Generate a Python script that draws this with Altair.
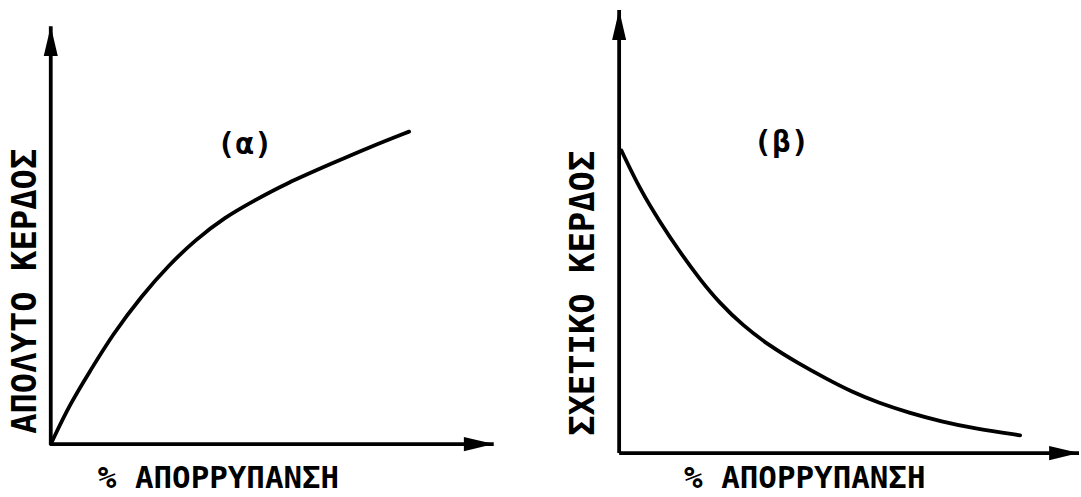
import altair as alt
import pandas as pd

# ---- data (arbitrary units 0-100 on both axes) ----
# Panel (α): ΑΠΟΛΥΤΟ ΚΕΡΔΟΣ vs % ΑΠΟΡΡΥΠΑΝΣΗ
a_x = [0, 4.3, 8.8, 13.9, 20.7, 26.7, 32.6, 39.3, 46.1, 52.8, 64.0, 71.7, 80.9]
a_y = [0, 9.2, 16.7, 25.2, 34.4, 41.3, 47.0, 52.3, 56.2, 59.9, 64.9, 68.3, 72.0]
# Panel (β): ΣΧΕΤΙΚΟ ΚΕΡΔΟΣ vs % ΑΠΟΡΡΥΠΑΝΣΗ
b_x = [0.5, 4.5, 8.9, 13.2, 17.5, 21.9, 26.8, 32.7, 39.2, 45.0, 50.6, 56.5, 63.0, 70.1, 77.5, 87.2]
b_y = [68.3, 59.6, 52.1, 45.4, 39.3, 33.8, 28.9, 24.2, 20.1, 16.8, 13.8, 11.3, 9.1, 7.1, 5.5, 4.0]

panel_labels = ["(α)", "(β)"]
label_pos_x = [43.8, 35.3]
label_pos_y = [69.0, 69.9]
y_titles = ["ΑΠΟΛΥΤΟ ΚΕΡΔΟΣ", "ΣΧΕΤΙΚΟ ΚΕΡΔΟΣ"]
x_title = "% ΑΠΟΡΡΥΠΑΝΣΗ"
y_axis_top = [96.3, 100.0]
x_axis_end = 100.0

FONT = "DejaVu Sans Mono"
UP = "M0,0L0.47,2L-0.47,2Z"
RIGHT = "M0,0L-2,0.48L-2,-0.48Z"


def panel(i, cx, cy, W, H, ytx, yty, xtx, xty):
    xs = alt.Scale(domain=[0, 100], nice=False, zero=False)
    ys = alt.Scale(domain=[0, 100], nice=False, zero=False)
    X = alt.X("x:Q", scale=xs, axis=alt.Axis(
        title=x_title, domain=False, ticks=False, labels=False, grid=False,
        titleX=xtx, titleY=xty, titleFont=FONT, titleFontSize=31,
        titleFontWeight="bold", titleAlign="center", titleBaseline="alphabetic",
        titleColor="black", titleAngle=0))
    Y = alt.Y("y:Q", scale=ys, axis=alt.Axis(
        title=y_titles[i], domain=False, ticks=False, labels=False, grid=False,
        titleX=ytx, titleY=yty, titleFont=FONT, titleFontSize=34,
        titleFontWeight="bold", titleAlign="center", titleBaseline="alphabetic",
        titleColor="black", titleAngle=270))

    curve = alt.Chart(pd.DataFrame({"x": cx, "y": cy})).mark_line(
        color="black", strokeWidth=3.8, interpolate="basis", strokeCap="round"
    ).encode(x=X, y=Y)

    vaxis = alt.Chart(pd.DataFrame({"x": [0], "y": [0], "y2": [y_axis_top[i]]})).mark_rule(
        color="black", strokeWidth=3.8).encode(x=X, y=Y, y2="y2:Q")
    haxis = alt.Chart(pd.DataFrame({"x": [0], "x2": [x_axis_end], "y": [0]})).mark_rule(
        color="black", strokeWidth=3.8).encode(x=X, x2="x2:Q", y=Y)

    up = alt.Chart(pd.DataFrame({"x": [0], "y": [y_axis_top[i]]})).mark_point(
        shape=UP, size=900, filled=True, color="black", opacity=1).encode(x=X, y=Y)
    right = alt.Chart(pd.DataFrame({"x": [x_axis_end], "y": [0]})).mark_point(
        shape=RIGHT, size=900, filled=True, color="black", opacity=1).encode(x=X, y=Y)

    lab = alt.Chart(pd.DataFrame({"x": [label_pos_x[i]], "y": [label_pos_y[i]],
                                  "t": [panel_labels[i]]})).mark_text(
        font=FONT, fontSize=31, fontWeight="bold", color="black",
        align="center", baseline="middle").encode(x=X, y=Y, text="t:N")

    return alt.layer(vaxis, haxis, curve, up, right, lab).properties(width=W, height=H)


pa = panel(0, a_x, a_y, 445, 436, ytx=-15, yty=282, xtx=168, xty=44)
pb = panel(1, b_x, b_y, 462, 445, ytx=-26, yty=284, xtx=186, xty=35)

chart = alt.hconcat(pa, pb, spacing=126, bounds="flush").properties(
    padding={"left": 8, "top": 7, "right": 0, "bottom": 5},
    background="white",
).configure_view(strokeWidth=0)

chart.save("out.html", embed_options={"renderer": "svg", "actions": False})
